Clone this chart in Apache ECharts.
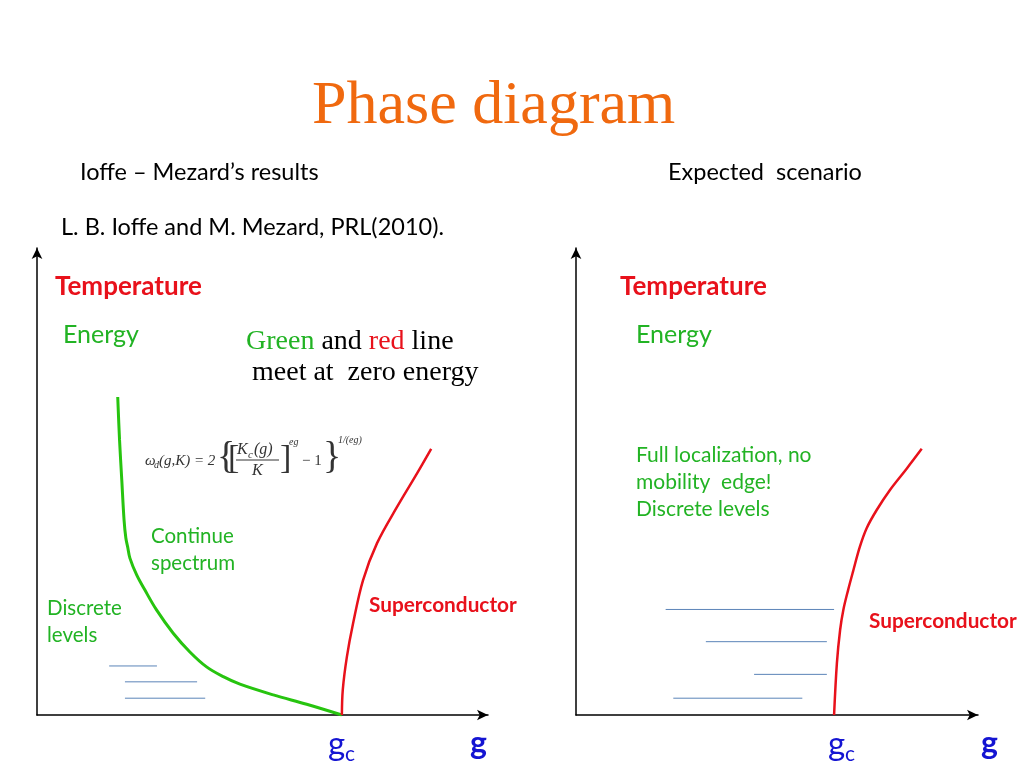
<!DOCTYPE html>
<html>
<head>
<meta charset="utf-8">
<script src="https://cdn.jsdelivr.net/npm/echarts@6/dist/echarts.min.js"></script>
<style>html,body{margin:0;padding:0;background:#fff;}#c{width:1024px;height:768px;}</style>
</head>
<body>
<div id="c"></div>
<script>
// ---- data (relative units: x 0..100 along the g axis, y 0..100 along the energy axis) ----
const greenLeft = [[17.9,68.1],[18.3,58.9],[18.8,50.3],[19.3,41.8],[19.7,37.9],[20.1,36.0],[20.6,33.6],[22.1,30.0],[23.9,26.8],[26.5,22.5],[30.2,17.5],[33.9,13.5],[37.6,10.3],[41.3,8.2],[45.0,6.6],[52.4,4.3],[59.8,2.3],[67.6,0]];
const redLeft = [[67.6,0],[67.8,5.4],[68.7,12.4],[70.1,19.7],[72.3,28.9],[75.4,36.8],[79.8,44.5],[84.3,51.8],[87.4,57.0]];
const redRight = [[64.2,0],[64.9,11.1],[65.7,18.2],[66.5,22.5],[67.7,26.8],[69.0,31.0],[70.6,36.0],[72.3,40.0],[74.8,43.9],[78.1,48.2],[82.3,52.8],[86.0,57.0]];
// discrete levels: [xStart, xEnd, y]
const levelsLeft = [[16.0,26.6,10.5],[19.5,35.5,7.1],[19.5,37.3,3.6]];
const levelsRight = [[22.3,64.2,22.6],[32.3,62.4,15.7],[44.3,62.4,8.7],[24.2,56.3,3.6]];

const GREEN_LINE = '#27c40f', GREEN_TXT = '#22b324', RED = '#e8111b', BLUE = '#1414d2', LEVEL = '#5b84b8';
const SANS = 'Lato, "Liberation Sans", sans-serif';
const SERIF = '"Liberation Serif", "DejaVu Serif", serif';

const chart = echarts.init(document.getElementById('c'), null, {renderer: 'canvas'});

function axisX(gi){return {type:'value',gridIndex:gi,min:0,max:100,
  axisLine:{show:true,onZero:false,symbol:['none','arrow'],symbolSize:[8,11],lineStyle:{color:'#000',width:1.5}},
  axisTick:{show:false},axisLabel:{show:false},splitLine:{show:false}};}
function axisY(gi){return {type:'value',gridIndex:gi,min:0,max:100,
  axisLine:{show:true,onZero:false,symbol:['none','arrow'],symbolSize:[8,11],lineStyle:{color:'#000',width:1.5}},
  axisTick:{show:false},axisLabel:{show:false},splitLine:{show:false}};}

function levelSeries(levels, gi){
  return levels.map(l => ({type:'line',xAxisIndex:gi,yAxisIndex:gi,data:[[l[0],l[2]],[l[1],l[2]]],
    showSymbol:false,silent:true,lineStyle:{color:LEVEL,width:1}}));
}

function T(text, x, y, size, color, extra){
  return {type:'text',x:x,y:y,silent:true,style:Object.assign({text:text,fill:color,
    fontSize:size,fontFamily:SANS,verticalAlign:'middle',align:'left'}, extra||{})};
}
function F(text, x, y, size, extra){ // formula pieces
  return {type:'text',x:x,y:y,silent:true,style:Object.assign({text:text,fill:'#333',fontSize:size,
    fontFamily:SERIF,fontStyle:'italic',verticalAlign:'middle',align:'left'}, extra||{})};
}

const graphics = [
  T('Phase diagram', 312, 107, 62, '#f0690f', {fontFamily:SERIF}),
  T('Ioffe \u2013 Mezard\u2019s results', 80, 172, 23.5, '#000'),
  T('Expected  scenario', 668, 172, 23.5, '#000'),
  T('L. B. Ioffe and M. Mezard, PRL(2010).', 61, 227, 23.5, '#000'),
  T('Temperature', 55, 287, 26, RED, {fontWeight:'bold'}),
  T('Temperature', 620, 287, 26, RED, {fontWeight:'bold'}),
  T('Energy', 63, 335, 25, GREEN_TXT),
  T('Energy', 636, 335, 25, GREEN_TXT),
  {type:'text',x:246,y:342,silent:true,style:{
    text:'{g|Green} {k|and} {r|red} {k|line}',verticalAlign:'middle',align:'left',fontSize:28,fontFamily:SERIF,
    rich:{g:{fill:GREEN_TXT,fontSize:28,fontFamily:SERIF},k:{fill:'#000',fontSize:28,fontFamily:SERIF},r:{fill:RED,fontSize:28,fontFamily:SERIF}}}},
  T('meet at  zero energy', 252, 373, 28, '#000', {fontFamily:SERIF}),
  T('Continue', 151, 536, 20.5, GREEN_TXT),
  T('spectrum', 151, 563, 20.5, GREEN_TXT),
  T('Discrete', 47, 608, 20.5, GREEN_TXT),
  T('levels', 47, 635, 20.5, GREEN_TXT),
  T('Superconductor', 369, 605, 20.8, RED, {fontWeight:'bold'}),
  T('Superconductor', 869, 621, 20.8, RED, {fontWeight:'bold'}),
  T('Full localization, no', 636, 455, 21, GREEN_TXT),
  T('mobility  edge!', 636, 482, 21, GREEN_TXT),
  T('Discrete levels', 636, 509, 21, GREEN_TXT),
  // g_c and g labels
  T('g', 328, 744, 33, BLUE),
  T('c', 345, 754, 21, BLUE),
  T('g', 470, 744, 32, BLUE, {fontWeight:'bold'}),
  T('g', 828, 744, 33, BLUE),
  T('c', 845, 754, 21, BLUE),
  T('g', 981, 744, 32, BLUE, {fontWeight:'bold'}),
  // formula
  F('\u03c9', 145, 461, 15),
  F('d', 154, 465, 10),
  F('(g,K) = 2', 159, 461, 15),
  F('{', 217, 458, 38, {fontStyle:'normal'}),
  F('[', 228, 459, 34, {fontStyle:'normal'}),
  F('K', 237, 450, 16),
  F('c', 248, 455, 11),
  F('(g)', 254, 450, 16),
  {type:'line',silent:true,shape:{x1:236,y1:460,x2:279,y2:460},style:{stroke:'#333',lineWidth:1}},
  F('K', 252, 471, 16),
  F(']', 280, 459, 34, {fontStyle:'normal'}),
  F('eg', 289, 442, 10),
  F('\u2212 1', 302, 461, 15, {fontStyle:'normal'}),
  F('}', 323, 458, 38, {fontStyle:'normal'}),
  F('1/(eg)', 338, 440, 10)
];

const option = {
  backgroundColor:'#fff',
  animation:false,
  grid:[{left:37,top:248,width:451,height:467},{left:576,top:248,width:402,height:467}],
  xAxis:[axisX(0),axisX(1)],
  yAxis:[axisY(0),axisY(1)],
  series:[
    {type:'line',xAxisIndex:0,yAxisIndex:0,data:greenLeft,smooth:0.35,showSymbol:false,lineStyle:{color:GREEN_LINE,width:3}},
    {type:'line',xAxisIndex:0,yAxisIndex:0,data:redLeft,smooth:0.35,showSymbol:false,lineStyle:{color:RED,width:2.5}},
    {type:'line',xAxisIndex:1,yAxisIndex:1,data:redRight,smooth:0.35,showSymbol:false,lineStyle:{color:RED,width:2.5}}
  ].concat(levelSeries(levelsLeft,0), levelSeries(levelsRight,1)),
  graphic:graphics
};
chart.setOption(option);
</script>
</body>
</html>
